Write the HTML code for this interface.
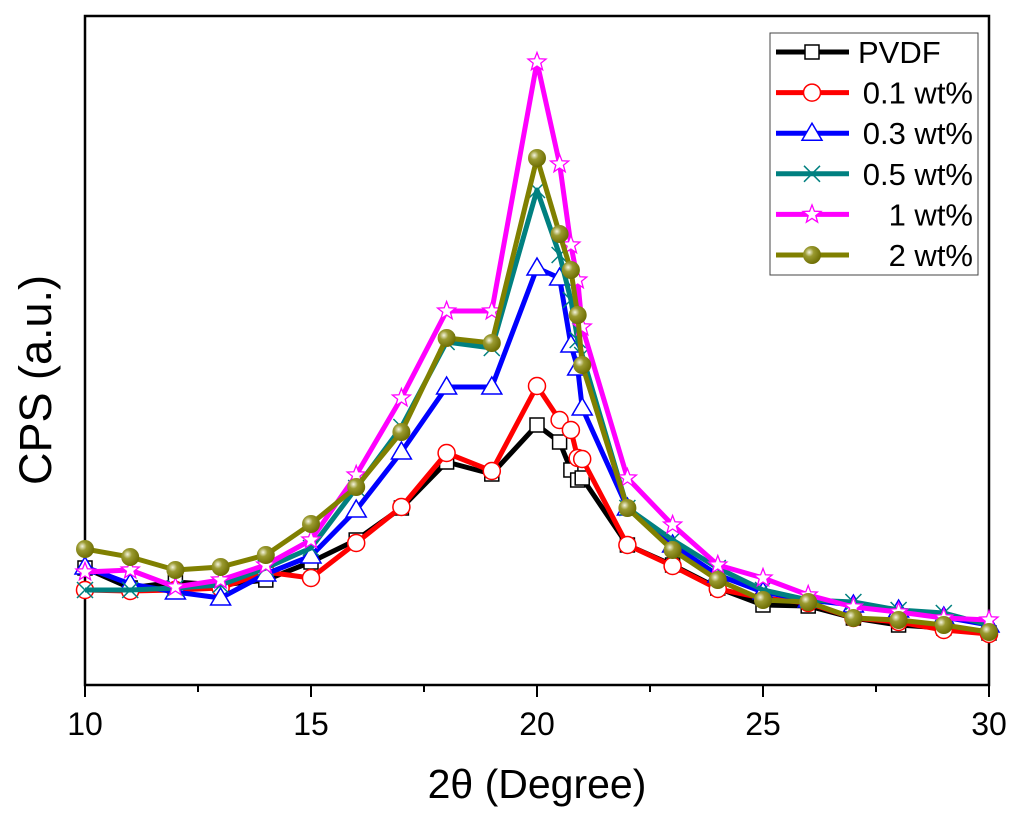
<!DOCTYPE html>
<html><head><meta charset="utf-8"><style>
html,body{margin:0;padding:0;background:#fff;}
svg{display:block;font-family:"Liberation Sans",Arial,sans-serif;}
</style></head><body>
<svg id="chart" width="1024" height="823" viewBox="0 0 1024 823">
<defs>
<radialGradient id="ball" cx="0.35" cy="0.35" r="0.7">
<stop offset="0" stop-color="#f4f4e0"/><stop offset="0.35" stop-color="#9a9a30"/><stop offset="1" stop-color="#6b6b00"/>
</radialGradient>
</defs>
<g id="plot"></g>
</svg>
<script>
const xs = [10,11,12,13,14,15,16,17,18,19,20,20.5,20.75,20.9,21,22,23,24,25,26,27,28,29,30];
const seriesNames = ["PVDF","0.1 wt%","0.3 wt%","0.5 wt%","1 wt%","2 wt%"];
const pvdf = [117,97,103,100,105,123,145,177,223,211,260,243,215,205,207,140,120,97,80,79,67,60,57,52];
const wt01 = [95,94,95,97,113,107,142,178,232,214,299,265,255,227,226,140,119,96,87,82,67,63,55,51];
const wt03 = [118,101,93,87,111,129,175,233,298,298,417,407,340,317,277,177,140,110,93,85,80,75,68,60];
const wt05 = [95,95,97,100,117,137,197,258,343,337,495,430,385,345,330,177,145,117,95,85,83,75,72,60];
const wt1 = [113,115,98,105,120,145,210,287,374,374,623,521,440,405,358,207,160,120,107,90,78,73,67,65];
const wt2 = [136,128,115,118,130,161,198,253,347,342,527,451,415,370,320,177,135,105,85,83,67,65,60,53];
const allSeries = [pvdf,wt01,wt03,wt05,wt1,wt2];
const xTicks = [10,15,20,25,30];
const colors = ["#000000","#ff0000","#0000ff","#008080","#ff00ff","#808000"];
const markers = ["square","circle","triangle","cross","star","ball"];

const L=85,R=989,T=16,B=685;
const xS = v => L + (v-10)/(30-10)*(R-L);
const yS = v => B - v/(669)*(B-T);
const NS="http://www.w3.org/2000/svg";
const g=document.getElementById('plot');
function el(tag,attrs,parent){const e=document.createElementNS(NS,tag);for(const k in attrs)e.setAttribute(k,attrs[k]);(parent||g).appendChild(e);return e;}

function marker(type,cx,cy,col,parent){
  let m;
  if(type==="square") m=el('rect',{x:cx-7,y:cy-7,width:14,height:14,fill:'#fff',stroke:col,'stroke-width':1.5},parent);
  else if(type==="circle") m=el('circle',{cx:cx,cy:cy,r:8.5,fill:'#fff',stroke:col,'stroke-width':1.5},parent);
  else if(type==="triangle") m=el('polygon',{points:`${cx},${cy-10} ${cx+10},${cy+7} ${cx-10},${cy+7}`,fill:'#fff',stroke:col,'stroke-width':1.5},parent);
  else if(type==="cross") m=el('path',{d:`M${cx-8},${cy-8}L${cx+8},${cy+8}M${cx-8},${cy+8}L${cx+8},${cy-8}`,stroke:col,'stroke-width':1.5,fill:'none'},parent);
  else if(type==="star"){let p=[];for(let i=0;i<10;i++){const r=i%2?4:9.5;const a=-Math.PI/2+i*Math.PI/5;p.push((cx+r*Math.cos(a)).toFixed(1)+','+(cy+r*Math.sin(a)).toFixed(1));}
    m=el('polygon',{points:p.join(' '),fill:'#fff',stroke:col,'stroke-width':1.3},parent);}
  else m=el('circle',{cx:cx,cy:cy,r:9,fill:'url(#ball)'},parent);
  return m;
}

const frame=el('rect',{x:L,y:T,width:R-L,height:B-T,fill:'none',stroke:'#000','stroke-width':2.5});



for(let v=10;v<=30;v+=2.5){
  const major=xTicks.includes(v);
  const t=el('line',{x1:xS(v),x2:xS(v),y1:B,y2:B+(major?12:7),stroke:'#000','stroke-width':2});
  
  
}
xTicks.forEach(v=>{
  const t=el('text',{x:xS(v),y:735,'text-anchor':'middle','font-size':32,fill:'#000'});
  t.textContent=v;
  
  
});
const xt=el('text',{x:537,y:798,'text-anchor':'middle','font-size':41,fill:'#000'});
xt.textContent='2θ (Degree)';


const yt=el('text',{x:0,y:0,'text-anchor':'middle','font-size':45,fill:'#000',transform:'translate(51,380) rotate(-90)'});
yt.textContent='CPS (a.u.)';



allSeries.forEach((s,i)=>{
  const sg=el('g',{});
  
  
  const pl=el('polyline',{points:s.map((v,j)=>xS(xs[j]).toFixed(1)+','+yS(v).toFixed(1)).join(' '),fill:'none',stroke:colors[i],'stroke-width':5,'stroke-linejoin':'round'},sg);
  
  
  s.forEach((v,j)=>{
    const m=marker(markers[i],xS(xs[j]),yS(v),colors[i],sg);
    
    
  });
});

const lg=el('g',{});


el('rect',{x:770,y:33,width:208,height:242,fill:'#fff',stroke:'#444','stroke-width':1},lg);
seriesNames.forEach((n,i)=>{
  const y=52+i*40.6;
  const eg=el('g',{},lg);
  
  
  el('line',{x1:776,x2:849,y1:y,y2:y,stroke:colors[i],'stroke-width':5},eg);
  marker(markers[i],812,y,colors[i],eg);
  const t=el('text',{x:973,y:y+11,'text-anchor':'end','font-size':31,fill:'#000'},eg);
  t.textContent=n;
  if(i===0){t.setAttribute('text-anchor','start');t.setAttribute('x',858);}
});
</script>
</body></html>
